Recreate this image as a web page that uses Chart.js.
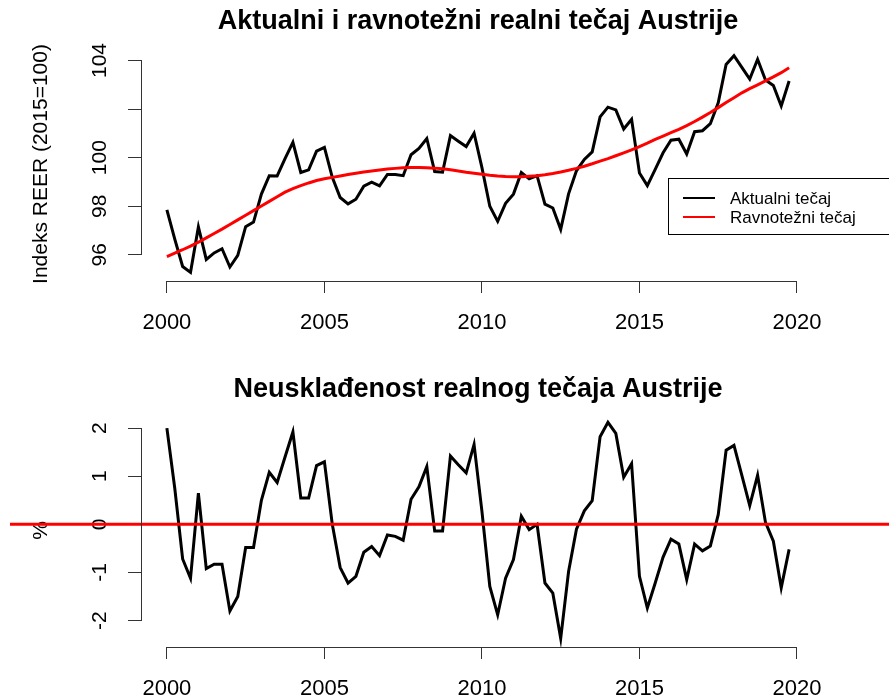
<!DOCTYPE html>
<html>
<head>
<meta charset="utf-8">
<script src="https://cdn.jsdelivr.net/npm/chart.js@4.4.1/dist/chart.umd.min.js"></script>
<style>
  html, body { margin: 0; padding: 0; background: #fff; }
  #wrap { position: relative; width: 889px; height: 699px; overflow: hidden; }
  canvas { position: absolute; left: 0; }
  #topChart { top: 0; }
  #bottomChart { top: 350px; }
</style>
</head>
<body>
<div id="wrap">
  <canvas id="topChart" width="889" height="350"></canvas>
  <canvas id="bottomChart" width="889" height="349"></canvas>
</div>
<script>
// quarterly series, 2000Q1 - 2019Q4
const startYear = 2000;

const actual = [
  97.85, 96.65, 95.52, 95.28, 97.15, 95.81, 96.08, 96.25, 95.50, 95.98,
  97.16, 97.35, 98.50, 99.26, 99.25, 99.96, 100.63, 99.39, 99.50, 100.27,
  100.42, 99.19, 98.36, 98.10, 98.29, 98.83, 98.99, 98.84, 99.31, 99.31,
  99.26, 100.12, 100.38, 100.79, 99.43, 99.40, 100.91, 100.68, 100.46, 101.01,
  99.59, 98.00, 97.38, 98.12, 98.50, 99.39, 99.13, 99.26, 98.09, 97.93,
  97.05, 98.51, 99.46, 99.93, 100.24, 101.68, 102.08, 101.97, 101.18, 101.58,
  99.37, 98.85, 99.52, 100.20, 100.72, 100.76, 100.15, 101.07, 101.11, 101.40,
  102.26, 103.84, 104.20, 103.72, 103.24, 104.05, 103.20, 102.97, 102.13, 103.16
];

const equilibrium = [
  95.93, 96.07, 96.21, 96.36, 96.52, 96.70, 96.88, 97.06, 97.25, 97.44,
  97.63, 97.82, 98.01, 98.20, 98.39, 98.58, 98.73, 98.85, 98.96, 99.06,
  99.13, 99.19, 99.25, 99.31, 99.36, 99.41, 99.45, 99.49, 99.53, 99.56,
  99.59, 99.60, 99.60, 99.59, 99.57, 99.54, 99.50, 99.45, 99.40, 99.36,
  99.32, 99.28, 99.25, 99.23, 99.22, 99.22, 99.24, 99.26, 99.30, 99.35,
  99.41, 99.48, 99.56, 99.65, 99.75, 99.86, 99.96, 100.08, 100.20, 100.32,
  100.46, 100.60, 100.75, 100.89, 101.03, 101.17, 101.32, 101.49, 101.67, 101.86,
  102.06, 102.27, 102.47, 102.67, 102.84, 103.00, 103.16, 103.33, 103.50, 103.70
];

const misalignment = [
  2.00, 0.75, -0.72, -1.12, 0.65, -0.92, -0.83, -0.83, -1.80, -1.50,
  -0.48, -0.48, 0.50, 1.08, 0.87, 1.40, 1.92, 0.55, 0.55, 1.22,
  1.30, 0.00, -0.90, -1.22, -1.08, -0.58, -0.46, -0.65, -0.22, -0.25,
  -0.33, 0.52, 0.78, 1.20, -0.14, -0.14, 1.42, 1.24, 1.07, 1.66,
  0.27, -1.29, -1.88, -1.12, -0.73, 0.17, -0.11, 0.00, -1.22, -1.43,
  -2.37, -0.98, -0.10, 0.28, 0.49, 1.82, 2.12, 1.89, 0.98, 1.26,
  -1.08, -1.74, -1.22, -0.68, -0.31, -0.41, -1.15, -0.41, -0.55, -0.45,
  0.20, 1.54, 1.64, 1.02, 0.39, 1.02, 0.04, -0.35, -1.32, -0.52
];

const seriesNames = ['Aktualni tečaj', 'Ravnotežni tečaj'];
const yearTicks = [2000, 2005, 2010, 2015, 2020];
const reerTicks = [96, 98, 100, 102, 104];
const reerTickLabels = ['96', '98', '100', '', '104'];
const misTicks = [-2, -1, 0, 1, 2];
const misTickLabels = ['-2', '-1', '0', '1', '2'];
const zeroLevel = 0;

const time = actual.map((_, i) => startYear + i / 4);

const FONT = 'Liberation Sans, Arial, Helvetica, sans-serif';

// R-like 4% range extension
function padRange(vals) {
  const lo = Math.min(...vals), hi = Math.max(...vals);
  const ext = (hi - lo) * 0.04;
  return [lo - ext, hi + ext];
}
const xRange = padRange(time);
const reerRange = padRange(actual.concat(equilibrium));
const misRange = padRange(misalignment);

// axis lines only between first and last tick, like base R
const rAxisLines = {
  id: 'rAxisLines',
  afterDraw(chart) {
    const { ctx, chartArea } = chart;
    const x = chart.scales.x, y = chart.scales.y;
    const xt = x.ticks, yt = y.ticks;
    ctx.save();
    ctx.strokeStyle = '#333';
    ctx.lineWidth = 1;
    ctx.beginPath();
    ctx.moveTo(x.getPixelForValue(xt[0].value), chartArea.bottom + 0.5);
    ctx.lineTo(x.getPixelForValue(xt[xt.length - 1].value), chartArea.bottom + 0.5);
    ctx.moveTo(chartArea.left - 0.5, y.getPixelForValue(yt[0].value));
    ctx.lineTo(chartArea.left - 0.5, y.getPixelForValue(yt[yt.length - 1].value));
    ctx.stroke();
    ctx.restore();
  }
};

const zeroLine = {
  id: 'zeroLine',
  afterDatasetsDraw(chart) {
    const { ctx } = chart;
    const py = chart.scales.y.getPixelForValue(zeroLevel);
    ctx.save();
    ctx.strokeStyle = '#ff0000';
    ctx.lineWidth = 3;
    ctx.beginPath();
    ctx.moveTo(10, py);
    ctx.lineTo(chart.width, py);
    ctx.stroke();
    ctx.restore();
  }
};

const boxLegend = {
  id: 'boxLegend',
  afterDraw(chart) {
    const { ctx } = chart;
    const colors = ['#000000', '#ff0000'];
    ctx.save();
    ctx.strokeStyle = '#000';
    ctx.lineWidth = 1;
    ctx.strokeRect(668.5, 178.5, 260, 56);
    ctx.font = '17px ' + FONT;
    ctx.textBaseline = 'middle';
    ctx.fillStyle = '#000';
    seriesNames.forEach((name, i) => {
      const ly = 198 + i * 19;
      ctx.strokeStyle = colors[i];
      ctx.lineWidth = 2;
      ctx.beginPath();
      ctx.moveTo(683, ly);
      ctx.lineTo(715, ly);
      ctx.stroke();
      ctx.fillText(name, 730, ly + 1);
    });
    ctx.restore();
  }
};

function makeOptions(cfg) {
  return {
    responsive: false,
    animation: false,
    devicePixelRatio: 1,
    layout: { padding: { top: 0, right: 75, left: 0, bottom: 0 } },
    plugins: {
      legend: { display: false },
      tooltip: { enabled: false },
      title: {
        display: true,
        text: cfg.title,
        fullSize: false,
        color: '#000',
        font: { family: FONT, size: 27, weight: 'bold' },
        padding: { top: cfg.titleTop, bottom: cfg.titleBottom }
      }
    },
    scales: {
      x: {
        type: 'linear',
        min: xRange[0],
        max: xRange[1],
        afterFit(s) { s.height = cfg.xHeight; },
        afterBuildTicks(s) { s.ticks = yearTicks.map(v => ({ value: v })); },
        border: { display: false },
        grid: { drawOnChartArea: false, drawTicks: true, tickLength: 12, color: '#333' },
        ticks: {
          color: '#000', font: { family: FONT, size: 22 }, padding: 17,
          maxRotation: 0, autoSkip: false,
          callback: (v) => String(v)
        }
      },
      y: {
        min: cfg.yRange[0],
        max: cfg.yRange[1],
        afterFit(s) { s.width = 142; },
        afterBuildTicks(s) { s.ticks = cfg.yTicks.map(v => ({ value: v })); },
        border: { display: false },
        grid: { drawOnChartArea: false, drawTicks: true, tickLength: 14, color: '#333' },
        ticks: {
          color: '#000', font: { family: FONT, size: 21 },
          minRotation: 90, maxRotation: 90, crossAlign: 'center',
          padding: cfg.yPad, autoSkip: false,
          callback: (v, i) => cfg.yLabels[i]
        },
        title: {
          display: true, text: cfg.yTitle, color: '#000',
          font: { family: FONT, size: 21 },
          padding: { top: 29, bottom: 0 }
        }
      }
    }
  };
}

new Chart(document.getElementById('topChart'), {
  type: 'line',
  data: {
    datasets: [
      {
        label: seriesNames[1],
        data: time.map((t, i) => ({ x: t, y: equilibrium[i] })),
        borderColor: '#ff0000', borderWidth: 3, pointRadius: 0, tension: 0, fill: false
      },
      {
        label: seriesNames[0],
        data: time.map((t, i) => ({ x: t, y: actual[i] })),
        borderColor: '#000000', borderWidth: 3, pointRadius: 0, tension: 0, fill: false
      }
    ]
  },
  options: makeOptions({
    title: 'Aktualni i ravnotežni realni tečaj Austrije',
    titleTop: 5.8, titleBottom: 8.8,
    xHeight: 69,
    yRange: reerRange, yTicks: reerTicks, yLabels: reerTickLabels,
    yPad: 10, yTitle: 'Indeks REER (2015=100)'
  }),
  plugins: [rAxisLines, boxLegend]
});

new Chart(document.getElementById('bottomChart'), {
  type: 'line',
  data: {
    datasets: [
      {
        label: 'Neusklađenost',
        data: time.map((t, i) => ({ x: t, y: misalignment[i] })),
        borderColor: '#000000', borderWidth: 3, pointRadius: 0, tension: 0, fill: false
      }
    ]
  },
  options: makeOptions({
    title: 'Neusklađenost realnog tečaja Austrije',
    titleTop: 23.8, titleBottom: 7.5,
    xHeight: 52,
    yRange: misRange, yTicks: misTicks, yLabels: misTickLabels,
    yPad: 18, yTitle: '%'
  }),
  plugins: [rAxisLines, zeroLine]
});
</script>
</body>
</html>
